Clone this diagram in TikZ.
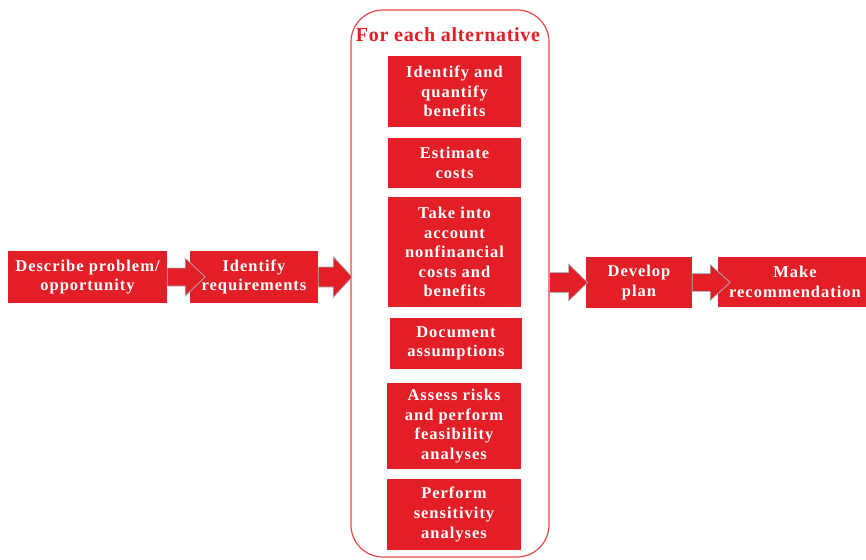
\documentclass[tikz,border=0pt]{standalone}
\usepackage{fontspec}
\setmainfont{Liberation Serif}
\newfontfamily\stepfont{Liberation Serif}[LetterSpace=6]
\newfontfamily\headfont{Liberation Serif}[LetterSpace=3.5]
\usetikzlibrary{calc}
\definecolor{boxred}{HTML}{E31E26}
\definecolor{framered}{HTML}{E5474C}
\definecolor{arrowedge}{HTML}{A9B4BC}

% block arrow: #1 start point, #2 length, #3 shaft width, #4 head width, #5 head length
\newcommand\blockarrow[5]{%
  \filldraw[barrow] ($(#1)+(0,{#3/2})$) -- ++({#2-#5},0) -- ++(0,{(#4-#3)/2})
    -- ++(#5,{-#4/2}) -- ++({-#5},{-#4/2}) -- ++(0,{(#4-#3)/2}) -- ++({#5-#2},0) -- cycle;}

\tikzset{
  stepbox/.style={fill=boxred, draw=none, inner sep=0pt, align=center,
    text=white, font=\stepfont\bfseries\fontsize{16.5}{19.6}\selectfont},
  barrow/.style={fill=boxred, draw=arrowedge, line width=0.7pt, line join=miter},
  frame/.style={draw=framered, line width=1.2pt, rounded corners=32pt, fill=white}
}

\begin{document}
\begin{tikzpicture}[x=1pt, y=-1pt]
\useasboundingbox (0,0) rectangle (866,559);

% outer frame holding the per-alternative steps
\node[frame, minimum width=198pt, minimum height=547pt] (frame) at (450,283.5) {};
\node[text=boxred, font=\headfont\bfseries\fontsize{20}{24}\selectfont] (title) at (448,35) {For each alternative};

% steps repeated for each alternative
\node[stepbox, minimum width=133pt, minimum height=71pt] (b1) at (454.5,91.5) {Identify and\\quantify\\benefits};
\node[stepbox, minimum width=133pt, minimum height=50pt] (b2) at (454.5,163) {Estimate\\costs};
\node[stepbox, minimum width=133pt, minimum height=110pt] (b3) at (454.5,252) {Take into\\account\\nonfinancial\\costs and\\benefits};
\node[stepbox, minimum width=132pt, minimum height=51pt] (b4) at (456,343.5) {Document\\assumptions};
\node[stepbox, minimum width=134pt, minimum height=86pt] (b5) at (454,426) {Assess risks\\and perform\\feasibility\\analyses};
\node[stepbox, minimum width=134pt, minimum height=71pt] (b6) at (454,514.5) {Perform\\sensitivity\\analyses};

% main flow
\node[stepbox, minimum width=159pt, minimum height=52pt] (desc) at (87.5,277) {Describe problem/\\opportunity};
\node[stepbox, minimum width=128pt, minimum height=52pt] (ident) at (254,277) {Identify\\requirements};
\node[stepbox, minimum width=106pt, minimum height=51pt] (plan) at (639,282.5) {Develop\\plan};
\node[stepbox, minimum width=154pt, minimum height=50pt] (rec) at (795,282) {Make\\recommendation};

% block arrows between the stages
\blockarrow{desc.east}{38}{18}{38}{20}
\blockarrow{ident.east}{34}{20}{41}{19}
\blockarrow{frame.east |- plan.west}{38}{20}{37}{19}
\blockarrow{plan.east}{38}{18}{36}{20}
\end{tikzpicture}
\end{document}
